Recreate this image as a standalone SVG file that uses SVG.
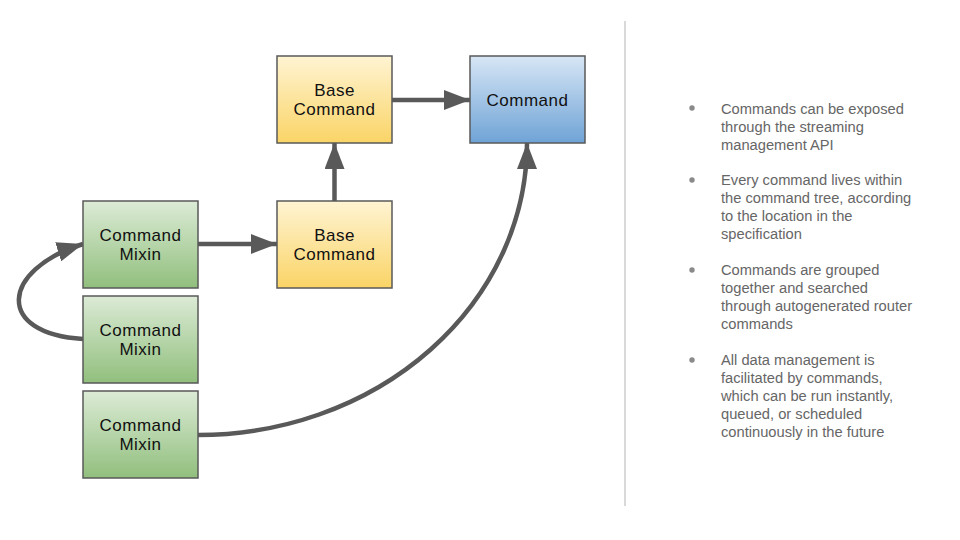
<svg xmlns="http://www.w3.org/2000/svg" width="960" height="540" viewBox="0 0 960 540">
<defs>
<linearGradient id="gY" x1="0" y1="0" x2="0" y2="1"><stop offset="0" stop-color="#fff4d3"/><stop offset="1" stop-color="#fad466"/></linearGradient>
<linearGradient id="gB" x1="0" y1="0" x2="0" y2="1"><stop offset="0" stop-color="#d7e6f5"/><stop offset="1" stop-color="#6fa3d6"/></linearGradient>
<linearGradient id="gG" x1="0" y1="0" x2="0" y2="1"><stop offset="0" stop-color="#dcebd6"/><stop offset="1" stop-color="#91bf7d"/></linearGradient>
<marker id="ah" markerUnits="userSpaceOnUse" markerWidth="26" markerHeight="20" viewBox="0 0 26 20" refX="26" refY="10" orient="auto"><path d="M0,0 L26,10 L0,20 Z" fill="#595959"/></marker>
<style>
.box{stroke:#595959;stroke-width:1.5}
.lbl{font-family:"Liberation Sans",Arial,sans-serif;font-size:17px;letter-spacing:0.5px;fill:#111;text-anchor:middle}
.con{fill:none;stroke:#595959;stroke-width:4.5;marker-end:url(#ah)}
.bt{font-family:"Liberation Sans",Arial,sans-serif;font-size:14.7px;fill:#666}
.dot{fill:#8a8a8a}
</style>
</defs>
<rect width="960" height="540" fill="#fff"/>
<line x1="625" y1="21" x2="625" y2="506" stroke="#d9d9d9" stroke-width="2"/>
<g id="connectors">
<path class="con" d="M392,100 L470,100"/>
<path class="con" d="M198,244 L277,244"/>
<path class="con" d="M334.5,201 L334.5,143"/>
<path class="con" d="M198,435 A329,292 0 0 0 527,143"/>
<path class="con" d="M83,339 C-5,334 0,270 83,244"/>
</g>
<g id="base-command-top"><rect class="box" x="277" y="56" width="115" height="87" fill="url(#gY)"/><text class="lbl" x="334.5" y="96">Base</text><text class="lbl" x="334.5" y="115">Command</text></g>
<g id="command"><rect class="box" x="470" y="56" width="115" height="87" fill="url(#gB)"/><text class="lbl" x="527.5" y="106">Command</text></g>
<g id="base-command-2"><rect class="box" x="277" y="201" width="115" height="87" fill="url(#gY)"/><text class="lbl" x="334.5" y="241">Base</text><text class="lbl" x="334.5" y="260">Command</text></g>
<g id="mixin-1"><rect class="box" x="83" y="201" width="115" height="87" fill="url(#gG)"/><text class="lbl" x="140.5" y="241">Command</text><text class="lbl" x="140.5" y="260">Mixin</text></g>
<g id="mixin-2"><rect class="box" x="83" y="296" width="115" height="87" fill="url(#gG)"/><text class="lbl" x="140.5" y="336">Command</text><text class="lbl" x="140.5" y="355">Mixin</text></g>
<g id="mixin-3"><rect class="box" x="83" y="391" width="115" height="87" fill="url(#gG)"/><text class="lbl" x="140.5" y="431">Command</text><text class="lbl" x="140.5" y="450">Mixin</text></g>
<g id="notes">
<circle class="dot" cx="692" cy="108" r="2.7"/>
<text class="bt" x="721" y="113.5">Commands can be exposed</text>
<text class="bt" x="721" y="131.5">through the streaming</text>
<text class="bt" x="721" y="149.5">management API</text>
<circle class="dot" cx="692" cy="180" r="2.7"/>
<text class="bt" x="721" y="185">Every command lives within</text>
<text class="bt" x="721" y="203">the command tree, according</text>
<text class="bt" x="721" y="221">to the location in the</text>
<text class="bt" x="721" y="239">specification</text>
<circle class="dot" cx="692" cy="270" r="2.7"/>
<text class="bt" x="721" y="275">Commands are grouped</text>
<text class="bt" x="721" y="293">together and searched</text>
<text class="bt" x="721" y="311">through autogenerated router</text>
<text class="bt" x="721" y="329">commands</text>
<circle class="dot" cx="692" cy="360" r="2.7"/>
<text class="bt" x="721" y="365">All data management is</text>
<text class="bt" x="721" y="383">facilitated by commands,</text>
<text class="bt" x="721" y="401">which can be run instantly,</text>
<text class="bt" x="721" y="419">queued, or scheduled</text>
<text class="bt" x="721" y="437">continuously in the future</text>
</g>
</svg>
